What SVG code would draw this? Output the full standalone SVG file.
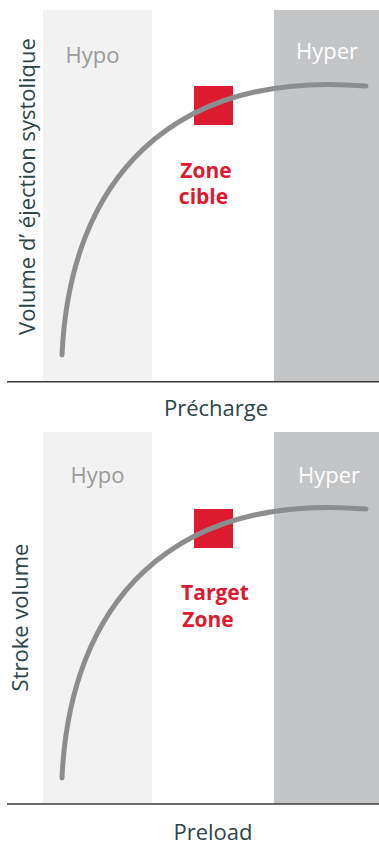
<svg xmlns="http://www.w3.org/2000/svg" width="379" height="846" viewBox="0 0 379 846">
<style>
.lb{fill:#f2f2f2}
.db{fill:#c4c5c7}
.ax{stroke:#3a3a3a;stroke-width:1.6;fill:none}
.cv{stroke:#8c8d8f;stroke-width:5;fill:none;stroke-linecap:round}
.sq{fill:#dc1a30}
.t{font-family:"Open Sans","Noto Sans","DejaVu Sans",sans-serif;font-size:22px}
.hypo{fill:#9a9a9a}
.hyper{fill:#ffffff}
.axl{fill:#2d4548}
.red{fill:#dc1a30;font-weight:bold;font-size:21px}
</style>
<g id="top-panel">
<rect class="lb" x="43" y="10" width="109" height="372"/>
<rect class="db" x="274" y="10" width="105" height="372"/>
<text class="t hypo" x="92.5" y="63" text-anchor="middle">Hypo</text>
<text class="t hyper" x="327" y="59" text-anchor="middle">Hyper</text>
<text class="t red" x="206" y="178" text-anchor="middle">Zone</text>
<text class="t red" x="203.5" y="204" text-anchor="middle">cible</text>
<rect class="sq" x="194" y="86" width="39" height="39"/>
<text class="t axl" x="216" y="416" text-anchor="middle">Précharge</text>
<text class="t axl" transform="translate(35,186.5) rotate(-90)" text-anchor="middle">Volume d’ éjection systolique</text>
</g>
<g id="bottom-panel">
<rect class="lb" x="43" y="432" width="109" height="372"/>
<rect class="db" x="274" y="432" width="105" height="372"/>
<text class="t hypo" x="97.5" y="483" text-anchor="middle">Hypo</text>
<text class="t hyper" x="329" y="483" text-anchor="middle">Hyper</text>
<text class="t red" x="215" y="600" text-anchor="middle">Target</text>
<text class="t red" x="208" y="627" text-anchor="middle">Zone</text>
<rect class="sq" x="194" y="509" width="39" height="39"/>
<text class="t axl" x="213" y="840" text-anchor="middle">Preload</text>
<text class="t axl" transform="translate(28,617.5) rotate(-90)" text-anchor="middle">Stroke volume</text>
</g>
<g id="connectors">
<line class="ax" x1="7" y1="381.7" x2="379" y2="381.7"/>
<line class="ax" x1="7" y1="804" x2="379" y2="804"/>
<path class="cv" d="M62,355 C70,180 170,70 366,86"/>
<path class="cv" d="M62,778 C70,603 170,493 366,509"/>
</g>
</svg>
